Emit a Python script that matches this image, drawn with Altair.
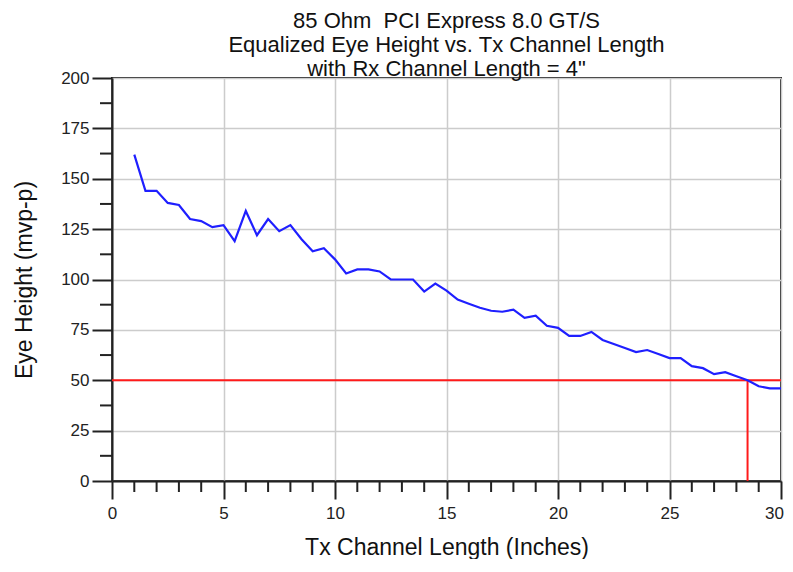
import altair as alt
import pandas as pd

# Data
tx_length = [1, 1.5, 2, 2.5, 3, 3.5, 4, 4.5, 5, 5.5, 6, 6.5, 7, 7.5, 8, 8.5, 9, 9.5,
             10, 10.5, 11, 11.5, 12, 12.5, 13, 13.5, 14, 14.5, 15, 15.5, 16, 16.5,
             17, 17.5, 18, 18.5, 19, 19.5, 20, 20.5, 21, 21.5, 22, 22.5, 23, 23.5,
             24, 24.5, 25, 25.5, 26, 26.5, 27, 27.5, 28, 28.5, 29, 29.5, 30]
eye_height = [162, 144, 144, 138, 137, 130, 129, 126, 127, 119, 134, 122, 130, 124,
              127, 120, 114, 115.5, 110, 103, 105, 105, 104, 100, 100, 100, 94, 98,
              94.5, 90, 88, 86, 84.5, 84, 85, 81, 82, 77, 76, 72, 72, 74, 70, 68,
              66, 64, 65, 63, 61, 61, 57, 56, 53, 54, 52, 50, 47, 46, 46]

limit_y = 50
limit_x = 28.5
x_major = [0, 5, 10, 15, 20, 25, 30]
y_major = [0, 25, 50, 75, 100, 125, 150, 175, 200]
x_minor = [v for v in range(1, 30) if v % 5 != 0]
y_minor = [12.5, 37.5, 62.5, 87.5, 112.5, 137.5, 162.5, 187.5]

title_lines = ["85 Ohm\u00a0 PCI Express 8.0 GT/S",
               "Equalized Eye Height vs. Tx Channel Length",
               "with Rx Channel Length = 4\""]

FONT = "Liberation Sans"
W, H = 669, 403

df = pd.DataFrame({"x": tx_length, "y": eye_height})
xs = alt.Scale(domain=[0, 30], nice=False)
ys = alt.Scale(domain=[0, 200], nice=False)

line = alt.Chart(df).mark_line(color="#1f1fff", strokeWidth=2.2).encode(
    x=alt.X("x:Q", scale=xs,
            axis=alt.Axis(values=x_major, title="Tx Channel Length (Inches)",
                          tickSize=18, tickWidth=2, tickColor="#222",
                          domainColor="#222", domainWidth=2,
                          gridColor="#cccccc", gridWidth=1.5, labelFlush=False,
                          labelOffset={"condition": {"test": "datum.value == 30",
                                                     "value": -7},
                                       "value": 0},
                          labelFont=FONT, labelFontSize=17, labelColor="#222",
                          labelPadding=6, titleFont=FONT, titleFontSize=23,
                          titleFontWeight="normal", titleColor="#111",
                          titleBaseline="middle", titleY=66, titleX=W / 2)),
    y=alt.Y("y:Q", scale=ys,
            axis=alt.Axis(values=y_major, title="Eye Height (mvp-p)",
                          tickSize=20, tickWidth=2, tickColor="#222",
                          domainColor="#222", domainWidth=2,
                          gridColor="#cccccc", gridWidth=1.5, labelFlush=False,
                          labelFont=FONT, labelFontSize=17, labelColor="#222",
                          labelPadding=3, titleFont=FONT, titleFontSize=23,
                          titleFontWeight="normal", titleColor="#111",
                          titleBaseline="middle", titleAngle=-90,
                          titleX=-88, titleY=H / 2)),
)

hline = alt.Chart(pd.DataFrame({"x": [0], "x2": [30], "y": [limit_y]})).mark_rule(
    color="#ff1a1a", strokeWidth=2).encode(
    x=alt.X("x:Q", scale=xs), x2="x2:Q", y=alt.Y("y:Q", scale=ys))
vline = alt.Chart(pd.DataFrame({"x": [limit_x], "y": [0], "y2": [limit_y]})).mark_rule(
    color="#ff1a1a", strokeWidth=2).encode(
    x=alt.X("x:Q", scale=xs), y=alt.Y("y:Q", scale=ys), y2="y2:Q")

xminor = alt.Chart(pd.DataFrame({"x": x_minor})).mark_rule(
    color="#222", strokeWidth=2).encode(
    x=alt.X("x:Q", scale=xs), y=alt.value(H), y2=alt.value(H + 11))
yminor = alt.Chart(pd.DataFrame({"y": y_minor})).mark_rule(
    color="#222", strokeWidth=2).encode(
    y=alt.Y("y:Q", scale=ys), x=alt.value(-12), x2=alt.value(0))

chart = alt.layer(hline, vline, line, xminor, yminor).properties(
    width=W, height=H,
    title=alt.TitleParams(text=title_lines, font=FONT, fontSize=22,
                          fontWeight="normal", color="#111", lineHeight=24,
                          anchor="middle", offset=-12),
    autosize=alt.AutoSizeParams(type="none"),
    padding={"left": 104, "top": 70, "right": 3, "bottom": 78},
).configure_view(stroke="#222", strokeWidth=2)

chart.save("out.html", embed_options={"renderer": "svg", "actions": False})
